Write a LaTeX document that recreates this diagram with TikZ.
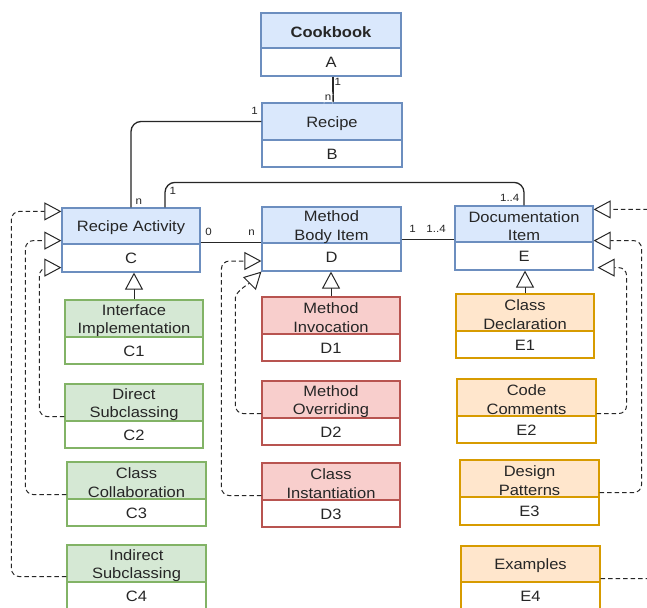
\documentclass[tikz,border=0pt]{standalone}
\usepackage{fontspec}
\setmainfont{Liberation Sans}[FakeStretch=1.1]
\usetikzlibrary{arrows.meta,fit,calc}
\definecolor{bluefill}{HTML}{DAE8FC}\definecolor{blueline}{HTML}{6C8EBF}
\definecolor{greenfill}{HTML}{D5E8D4}\definecolor{greenline}{HTML}{82B366}
\definecolor{redfill}{HTML}{F8CECC}\definecolor{redline}{HTML}{B85450}
\definecolor{orangefill}{HTML}{FFE6CC}\definecolor{orangeline}{HTML}{D79B00}
\definecolor{ink}{HTML}{262626}
\tikzset{
  box/.style={inner sep=0pt, line width=1.2pt},
  txt/.style={font=\fontsize{15}{18.5}\selectfont, align=center, text=ink, inner sep=0pt},
  mult/.style={font=\fontsize{10.5}{12}\selectfont, inner sep=1pt, text=ink},
  assoc/.style={line width=1.3pt, draw=ink, rounded corners=10pt},
  gen/.style={line width=1pt, draw=ink, -{Triangle[open,length=17pt,width=18pt,fill=white]}},
  real/.style={gen, dash pattern=on 4.5pt off 3pt, rounded corners=8pt},
}
\newcommand\umlcls[9]{%
  \coordinate (#1-nw) at (#3,#4);
  \coordinate (#1-se) at (#5,#6);
  \coordinate (#1-sw) at (#3,#6);
  \coordinate (#1-bse) at (#5,#7);
  \node[box, fit=(#1-nw)(#1-se), fill=#2fill, draw=#2line] (#1) {};
  \node[box, fit=(#1-sw)(#1-bse), fill=white, draw=#2line] (#1b) {};
  \node[txt] (#1t) at ([yshift=-2pt]#1.center) {#8};
  \node[txt] (#1l) at ([yshift=-14pt]#1.south) {#9};
}
\begin{document}
\begin{tikzpicture}[x=1pt,y=-1pt]
\fill[white] (0,0) rectangle (647,607);
\useasboundingbox (0,0) rectangle (647,607);

\umlcls{A}{blue}{261}{13}{401}{48}{76}{\textbf{Cookbook}}{A}
\umlcls{B}{blue}{262}{103}{402}{140}{167}{Recipe}{B}
\umlcls{C}{blue}{62}{208}{200}{244}{272}{Recipe Activity}{C}
\umlcls{D}{blue}{262}{207}{401}{243}{271}{Method\\Body Item}{D}
\umlcls{E}{blue}{455}{206}{593}{242}{270}{Documentation\\Item}{E}
\umlcls{C1}{green}{65}{300}{203}{337}{364}{Interface\\Implementation}{C1}
\umlcls{C2}{green}{65}{384}{203}{421}{448}{Direct\\Subclassing}{C2}
\umlcls{C3}{green}{67}{462}{206}{499}{526}{Class\\Collaboration}{C3}
\umlcls{C4}{green}{67}{545}{206}{582}{615}{Indirect\\Subclassing}{C4}
\umlcls{D1}{red}{262}{297}{400}{334}{361}{Method\\Invocation}{D1}
\umlcls{D2}{red}{262}{381}{400}{418}{445}{Method\\Overriding}{D2}
\umlcls{D3}{red}{262}{463}{400}{500}{527}{Class\\Instantiation}{D3}
\umlcls{E1}{orange}{456}{294}{594}{331}{358}{Class\\Declaration}{E1}
\umlcls{E2}{orange}{457}{379}{596}{416}{443}{Code\\Comments}{E2}
\umlcls{E3}{orange}{460}{460}{599}{497}{525}{Design\\Patterns}{E3}
\umlcls{E4}{orange}{461}{546}{600}{582}{615}{Examples}{E4}

% associations
\draw[assoc] ([xshift=2pt]Ab.south) -- ([xshift=2pt]Ab.south |- B.north)
  node[pos=0, mult, anchor=north west]{1}
  node[pos=1, mult, anchor=south east, fill=white]{n};
\draw[assoc] (B.west) -| (C.north)
  node[pos=0, mult, anchor=south east, xshift=-2pt, yshift=5pt]{1}
  node[pos=1, mult, anchor=south west, xshift=3pt, yshift=1pt]{n};
\draw[assoc] ([xshift=34pt]C.north) -- ++(0,-25) -| (E.north)
  node[pos=0, mult, anchor=north west, xshift=3pt, yshift=-3pt]{1}
  node[pos=1, mult, anchor=south east, xshift=-3pt, yshift=2pt]{1..4};
\draw[assoc] ([yshift=2pt]C.south east) -- ([yshift=2pt]C.south east -| D.west)
  node[pos=0, mult, anchor=south west, xshift=3pt, yshift=5pt]{0}
  node[pos=1, mult, anchor=south east, xshift=-5pt, yshift=5pt]{n};
\draw[assoc] ([yshift=4pt]D.south east) -- ([yshift=4pt]D.south east -| E.west)
  node[pos=0, mult, anchor=south west, xshift=6pt, yshift=5pt]{1}
  node[pos=1, mult, anchor=south east, xshift=-7pt, yshift=5pt]{1..4};

% generalizations
\draw[gen] (C1.north) -- (C1.north |- Cb.south);
\draw[gen] (D1.north) -- (D1.north |- Db.south);
\draw[gen] (E1.north) -- (E1.north |- Eb.south);

% realizations (dashed)
\draw[real] ([yshift=5pt]C2.south west) -- ++(-25,0) |- ([yshift=5pt]Cb.south west);
\draw[real] ([yshift=5pt]C3.south west) -- ++(-41,0) |- ([yshift=4pt]C.south west);
\draw[real] ([yshift=6pt]C4.south west) -- ++(-55,0) |- ([yshift=-4pt]C.north west);
\draw[real] ([yshift=5pt]D3.south west) -- ++(-40,0) |- ([yshift=-4pt]Db.west);
\draw[real] ([yshift=5pt]D2.south west) -- ++(-26,0) -- ++(0,-108)
  .. controls +(0,-14) and +(-10,10) .. (Db.south west);
\draw[real] ([yshift=3pt]E2.south east) -- ++(30,0) |- ([xshift=4pt,yshift=3pt]Eb.south east);
\draw[real] ([yshift=5pt]E3.south east) -- ++(42,0) |- ([yshift=2pt]E.south east);
\draw[real] ([yshift=4pt]E4.south east) -- ++(60,0) |- ([yshift=-4pt]E.north east);
\end{tikzpicture}
\end{document}
